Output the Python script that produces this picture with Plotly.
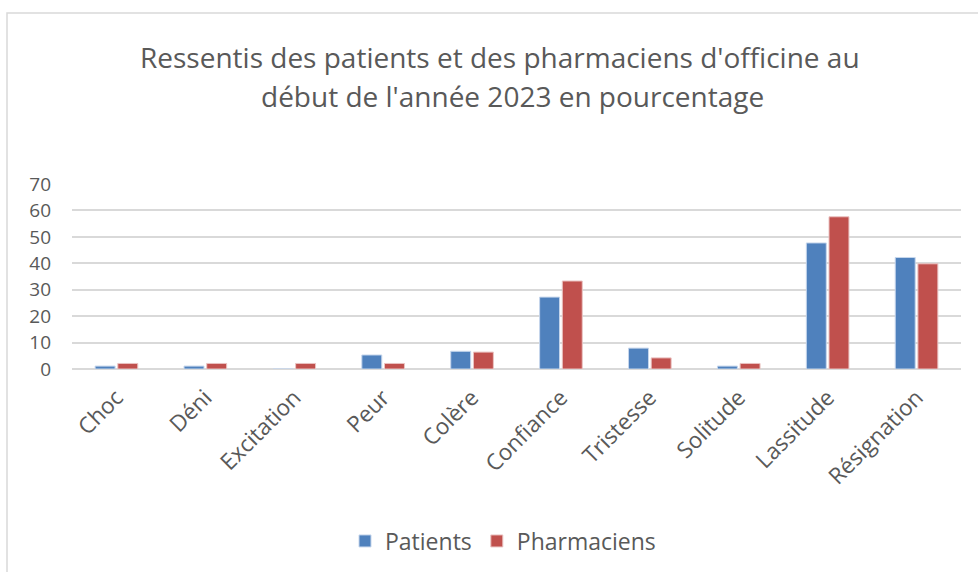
import plotly.graph_objects as go

categories = ["Choc", "Déni", "Excitation", "Peur", "Colère", "Confiance",
              "Tristesse", "Solitude", "Lassitude", "Résignation"]
patients = [1.1, 1.1, 0, 5.3, 6.7, 27.2, 7.9, 1.1, 47.7, 42.2]
pharmaciens = [2.1, 2.1, 2.1, 2.1, 6.4, 33.3, 4.2, 2.1, 57.6, 39.8]
y_ticks = [0, 10, 20, 30, 40, 50, 60, 70]

title_lines = ["Ressentis des patients et des pharmaciens d'officine au",
               "début de l'année 2023 en pourcentage"]

FONT = "Open Sans"
GREY = "#595959"
W, H = 978, 572

fig = go.Figure()
fig.add_trace(go.Bar(x=categories, y=patients, name="Patients",
                     marker=dict(color="#4F81BD", line=dict(color="#C6D6EC", width=1))))
fig.add_trace(go.Bar(x=categories, y=pharmaciens, name="Pharmaciens",
                     marker=dict(color="#C0504D", line=dict(color="#EAC3C2", width=1))))

title_annotations = [
    dict(text=title_lines[0], xref="paper", yref="paper",
         x=(500 - 72) / 889, y=(369 - 57) / 185, xanchor="center", yanchor="middle",
         showarrow=False, font=dict(family=FONT, size=28, color=GREY)),
    dict(text=title_lines[1], xref="paper", yref="paper",
         x=(512 - 72) / 889, y=(369 - 96) / 185, xanchor="center", yanchor="middle",
         showarrow=False, font=dict(family=FONT, size=28, color=GREY)),
]

fig.update_layout(
    width=W, height=H,
    margin=dict(l=72, r=17, t=184, b=203, autoexpand=False),
    paper_bgcolor="white", plot_bgcolor="white",
    barmode="group", bargap=0.49, bargroupgap=0.12,
    font=dict(family=FONT, color=GREY, size=18),
    annotations=title_annotations,
    xaxis=dict(tickangle=-45, showgrid=False, showline=False, ticks="",
               automargin=False, ticklabelstandoff=10,
               tickfont=dict(size=22.5, color=GREY)),
    yaxis=dict(range=[0, 70], tickvals=y_ticks, showgrid=True, gridcolor="#D9D9D9",
               gridwidth=1.5, zeroline=True, zerolinecolor="#D9D9D9", zerolinewidth=1.5,
               showline=False, ticks="", automargin=False, ticklabelstandoff=20,
               tickfont=dict(size=19, color=GREY)),
    legend=dict(orientation="h", xanchor="center", x=503 / W, xref="container",
                y=1 - 541 / H, yref="container", yanchor="middle",
                font=dict(size=23, color=GREY), itemwidth=30, traceorder="normal"),
    shapes=[dict(type="rect", xref="paper", yref="paper",
                 x0=(7 - 72) / 889, x1=(990 - 72) / 889,
                 y0=(369 - 590) / 185, y1=(369 - 13) / 185,
                 line=dict(color="#D9D9D9", width=1.5), fillcolor="rgba(0,0,0,0)",
                 layer="below")],
)

fig.write_html("out.html", config={"displayModeBar": False},
               post_script="document.body.style.margin='0px';")
